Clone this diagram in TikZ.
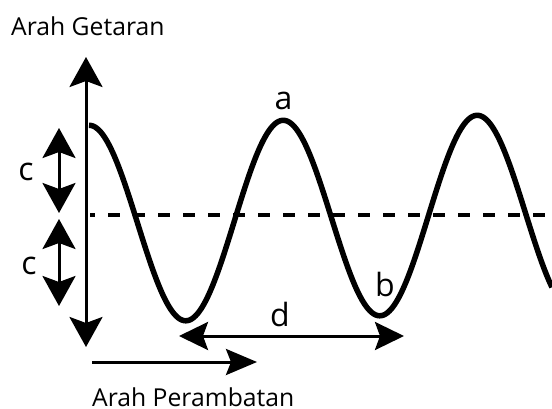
\documentclass[tikz,border=0pt]{standalone}
\usepackage{fontspec}
\setmainfont{Open Sans}
\usetikzlibrary{arrows.meta}
\begin{document}
\begin{tikzpicture}[x=1pt,y=-1pt,
  bothtip/.style={{Stealth[length=30pt,width=33pt,inset=6pt]}-{Stealth[length=30pt,width=33pt,inset=6pt]}},
  hbothtip/.style={{Stealth[length=29pt,width=28pt,inset=5pt]}-{Stealth[length=29pt,width=28pt,inset=5pt]}},
  htip/.style={-{Stealth[length=31pt,width=26pt,inset=5pt]}},
  axisline/.style={line width=3pt},
  wave/.style={line width=5.5pt, line join=round},
  midline/.style={line width=4pt, dash pattern=on 12pt off 13pt, dash phase=7pt},
  title/.style={inner sep=0pt, anchor=base west, font=\fontsize{24.7}{28}\selectfont},
  letter/.style={inner sep=0pt, anchor=base, font=\fontsize{32}{36}\selectfont}]
\useasboundingbox (0,0) rectangle (552,408);
% coordinates
\coordinate (vtop) at (86,57);
\coordinate (vbot) at (86,347);
\coordinate (c1t) at (59,128);
\coordinate (c1b) at (59,213);
\coordinate (c2t) at (59,219);
\coordinate (c2b) at (59,306);
\coordinate (dl) at (179,336);
\coordinate (dr) at (404,336);
\coordinate (pl) at (92,362);
\coordinate (pr) at (257,362);
\coordinate (ml) at (90,215);
\coordinate (mr) at (552,215);
% midline
\draw[midline] (ml) -- (mr);
% wave
\draw[wave] plot[domain=89:552, samples=240, smooth] (\x, {220.5 - 0.02577*(\x-236) - 99*cos(1.85567*(\x-89))});
% arrows
\draw[axisline, bothtip] (vtop) -- (vbot);
\draw[axisline, bothtip] (c1t) -- (c1b);
\draw[axisline, bothtip] (c2t) -- (c2b);
\draw[axisline, hbothtip] (dl) -- (dr);
\draw[axisline, htip] (pl) -- (pr);
% texts
\node[title] (tg) at (11,35) {Arah Getaran};
\node[title] (tp) at (92,406) {Arah Perambatan};
\node[letter] (la) at (283.5,109) {a};
\node[letter] (lb) at (385,296) {b};
\node[letter] (lc1) at (26,180) {c};
\node[letter] (lc2) at (29,274) {c};
\node[letter] (ld) at (280,326) {d};
\end{tikzpicture}
\end{document}
